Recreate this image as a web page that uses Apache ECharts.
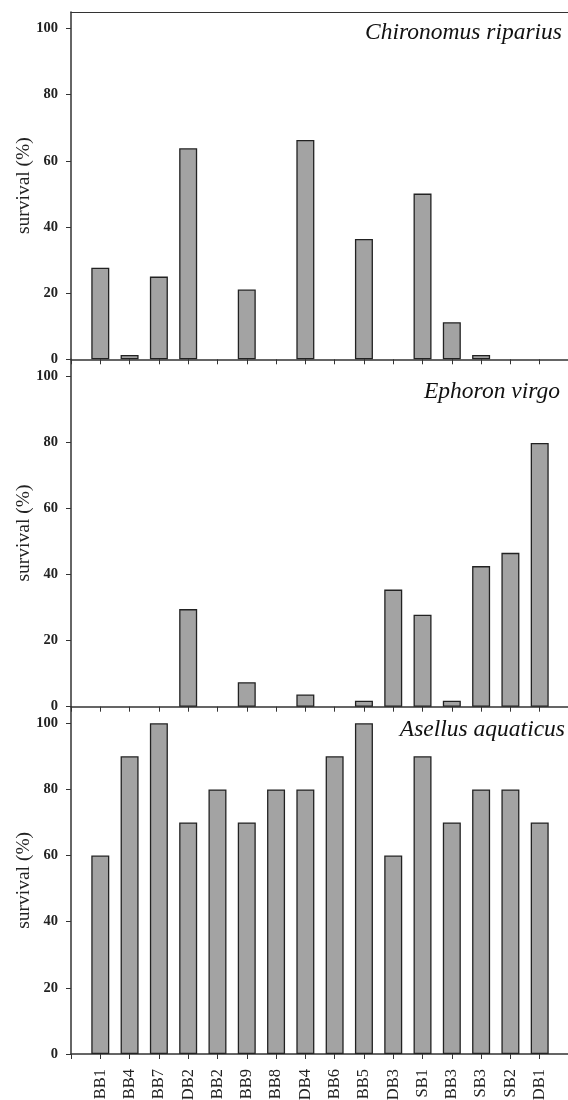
<!DOCTYPE html>
<html>
<head>
<meta charset="utf-8">
<script src="https://cdn.jsdelivr.net/npm/echarts@6/dist/echarts.min.js"></script>
<style>
html,body{margin:0;padding:0;background:#fff;}
#c{width:568px;height:1100px;}
</style>
</head>
<body>
<div id="c"></div>
<script>
const categories = ['BB1','BB4','BB7','DB2','BB2','BB9','BB8','DB4','BB6','BB5','DB3','SB1','BB3','SB3','SB2','DB1'];
const chironomus = [27.7, 1.3, 25.0, 63.8, 0, 21.1, 0, 66.3, 0, 36.4, 0, 50.1, 11.2, 1.3, 0, 0];
const ephoron = [0, 0, 0, 29.5, 0, 7.4, 0, 3.7, 0, 1.8, 35.4, 27.8, 1.8, 42.5, 46.5, 79.7];
const asellus = [60, 90, 100, 70, 80, 70, 80, 80, 90, 100, 60, 90, 70, 80, 80, 70];
const species = ['Chironomus riparius', 'Ephoron virgo', 'Asellus aquaticus'];
const yTicks = [0, 20, 40, 60, 80, 100];

const seriesData = [chironomus, ephoron, asellus];
// pad one empty slot on each side so the first bar sits one band from the axis
const padCats = [''].concat(categories, ['']);
const padData = arr => [null].concat(arr.map(v => v === 0 ? null : v), [null]);

const grids = [
  {left: 71, right: -1, top: 12, height: 347.3, outerBoundsMode: 'none', containLabel: false},
  {left: 71, right: -1, top: 359.3, height: 347.4, outerBoundsMode: 'none', containLabel: false},
  {left: 71, right: -1, top: 706.7, height: 347.3, outerBoundsMode: 'none', containLabel: false}
];
const serif = '"Liberation Serif", "DejaVu Serif", serif';

const xAxes = grids.map((g, i) => ({
  type: 'category',
  gridIndex: i,
  data: padCats,
  boundaryGap: false,
  axisLine: {show: true, lineStyle: {color: '#333', width: 1.5}},
  axisTick: {show: true, inside: false, length: 5, lineStyle: {color: '#333', width: 1}},
  axisLabel: {
    show: i === 2,
    rotate: 90,
    margin: 15,
    fontFamily: serif,
    fontSize: 16.5,
    color: '#222',
    interval: 0
  },
  splitLine: {show: false}
}));
// top frame line of the first panel
xAxes.push({
  type: 'category',
  gridIndex: 0,
  position: 'top',
  data: padCats,
  boundaryGap: false,
  axisLine: {show: true, lineStyle: {color: '#333', width: 1.2}},
  axisTick: {show: false},
  axisLabel: {show: false},
  splitLine: {show: false}
});

const yAxes = grids.map((g, i) => ({
  type: 'value',
  gridIndex: i,
  min: 0,
  max: 105,
  interval: 20,
  name: 'survival (%)',
  nameLocation: 'middle',
  nameMoveOverlap: false,
  nameGap: 37,
  nameTextStyle: {fontFamily: serif, fontSize: 19.5, color: '#222'},
  axisLine: {show: true, lineStyle: {color: '#333', width: 1.5}},
  axisTick: {show: true, length: 5, customValues: yTicks, lineStyle: {color: '#333'}},
  axisLabel: {
    customValues: yTicks,
    margin: 13,
    fontFamily: serif,
    fontWeight: 'bold',
    fontSize: 14.5,
    color: '#222'
  },
  splitLine: {show: false}
}));

const series = seriesData.map((d, i) => ({
  type: 'bar',
  xAxisIndex: i,
  yAxisIndex: i,
  data: padData(d),
  barWidth: 18,
  itemStyle: {color: '#a3a3a3', borderColor: '#222', borderWidth: 1.3},
  emphasis: {disabled: true}
}));

const titleTops = [21, 380, 718];
const titleRights = [6, 8, 3];
const titles = species.map((s, i) => ({
  text: s,
  right: titleRights[i],
  top: titleTops[i],
  padding: 0,
  textStyle: {fontFamily: serif, fontStyle: 'italic', fontWeight: 'normal', fontSize: 23.5, color: '#111'}
}));

const chart = echarts.init(document.getElementById('c'), null, {renderer: 'canvas'});
chart.setOption({
  animation: false,
  backgroundColor: '#fff',
  title: titles,
  grid: grids,
  xAxis: xAxes,
  yAxis: yAxes,
  series: series
});
</script>
</body>
</html>
